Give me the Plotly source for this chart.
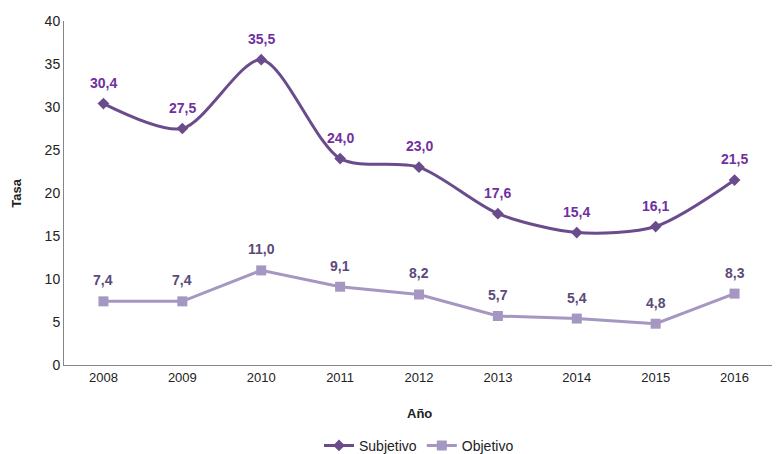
import plotly.graph_objects as go

years = ["2008", "2009", "2010", "2011", "2012", "2013", "2014", "2015", "2016"]
subjetivo = [30.4, 27.5, 35.5, 24.0, 23.0, 17.6, 15.4, 16.1, 21.5]
objetivo = [7.4, 7.4, 11.0, 9.1, 8.2, 5.7, 5.4, 4.8, 8.3]

def fmt(v):
    return f"<b>{v:.1f}</b>".replace(".", ",")

fig = go.Figure()
fig.add_trace(go.Scatter(
    x=years, y=subjetivo, name="Subjetivo", mode="lines+markers",
    line=dict(color="#6A4C8C", width=3, shape="spline", smoothing=0.8),
    marker=dict(symbol="diamond", size=9, color="#6A4C8C"),
    cliponaxis=False,
))
fig.add_trace(go.Scatter(
    x=years, y=objetivo, name="Objetivo", mode="lines+markers",
    line=dict(color="#A597C2", width=3),
    marker=dict(symbol="square", size=10, color="#A597C2"),
    cliponaxis=False,
))

annotations = []
for series, color in ((subjetivo, "#7030A0"), (objetivo, "#5B4A7A")):
    for i, v in enumerate(series):
        annotations.append(dict(x=i, y=v, xref="x", yref="y", text=fmt(v), showarrow=False,
                                yshift=21, font=dict(size=14, color=color)))
annotations += [
    dict(text="<b>Año</b>", xref="paper", yref="paper", x=0.5, y=-0.142,
         xanchor="center", yanchor="middle", showarrow=False, font=dict(size=13)),
    dict(text="<b>Tasa</b>", xref="paper", yref="paper", x=-0.068, y=0.5,
         xanchor="center", yanchor="middle", showarrow=False, textangle=-90,
         font=dict(size=13)),
]

fig.update_layout(
    width=772, height=446,
    margin=dict(l=55.5, r=5.5, t=13, b=89, autoexpand=False),
    paper_bgcolor="white", plot_bgcolor="white",
    font=dict(family="Liberation Sans", size=13, color="#222"),
    showlegend=True,
    legend=dict(orientation="h", x=0.5, xanchor="center", y=-0.235, yanchor="middle",
                font=dict(size=14, color="#222")),
    xaxis=dict(type="category", range=[-0.5, 8.5], showline=True, linecolor="#868686",
               linewidth=1, ticks="", showgrid=False, automargin=False,
               tickfont=dict(size=13)),
    yaxis=dict(range=[0, 40], dtick=5, showline=True, linecolor="#868686", linewidth=1,
               showgrid=False, ticks="", zeroline=False, automargin=False,
               tickfont=dict(size=14)),
    annotations=annotations,
)
fig.write_html("out.html")
